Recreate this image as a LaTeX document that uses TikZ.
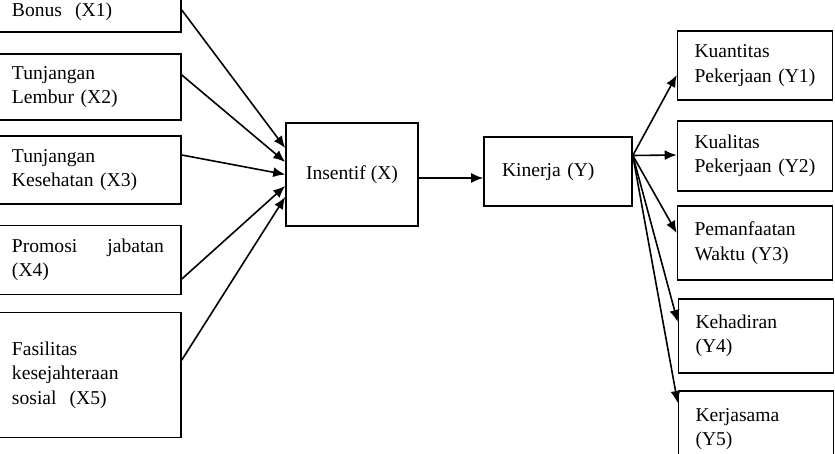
\documentclass[tikz,border=0pt]{standalone}
\usepackage{fontspec}
\setmainfont{Liberation Serif}
\usetikzlibrary{arrows.meta}

\begin{document}
\begin{tikzpicture}[x=1pt, y=-1pt,
    box/.style={draw, line width=1.6pt, rectangle, align=left, inner xsep=17pt, inner ysep=0pt,
        font=\fontsize{19.6}{24.5}\selectfont},
    leftbox/.style={box, text width=152pt},
    rightbox/.style={box, text width=121pt},
    arr/.style={-{Latex[length=12pt,width=10pt]}, line width=1.6pt}]
    % Fix the page size
    \useasboundingbox (0,0) rectangle (835,454);

    % Draw the left boxes
    \node[leftbox, minimum height=40pt] (x1) at (88,12) {Bonus\ \ (X1)};
    \node[leftbox, minimum height=66pt] (x2) at (88,87) {Tunjangan\\Lembur (X2)};
    \node[leftbox, minimum height=68pt] (x3) at (88,170) {Tunjangan\\Kesehatan (X3)};
    \node[leftbox, minimum height=69pt] (x4) at (88,260) {Promosi \hfill jabatan\\(X4)};
    \node[leftbox, minimum height=125pt] (x5) at (88,375) {Fasilitas\\kesejahteraan\\sosial\ \ (X5)};

    % Draw the middle boxes
    \node[box, align=center, minimum width=132pt, minimum height=103pt] (ins) at (352,174.5) {Insentif (X)};
    \node[box, inner xsep=18pt, text width=112pt, minimum height=69pt] (kin) at (558,171.5) {Kinerja (Y)};

    % Draw the right boxes
    \node[rightbox, minimum height=69pt] (y1) at (755,65.5) {Kuantitas\\Pekerjaan (Y1)};
    \node[rightbox, minimum height=70pt] (y2) at (755,156) {Kualitas\\Pekerjaan (Y2)};
    \node[rightbox, minimum height=74pt] (y3) at (755,243) {Pemanfaatan\\Waktu (Y3)};
    \node[rightbox, minimum height=74pt] (y4) at (756,336) {Kehadiran\\(Y4)};
    \node[rightbox, minimum height=76pt] (y5) at (756,429) {Kerjasama\\(Y5)};

    % Arrows into Insentif
    \foreach \s/\a/\b in {x1/2/26.5, x2/12/12.5, x3/15/0, x4/-19/-11.5, x5/15/-22.5}
        \draw[arr] ([yshift=\a pt]\s.east) -- ([yshift=\b pt]ins.west);

    % Insentif to Kinerja
    \draw[arr] ([yshift=-3.5pt]ins.east) -- ([yshift=-6.5pt]kin.west);

    % Arrows out of Kinerja
    \coordinate (fan) at ([yshift=16pt]kin.east);
    \foreach \t/\b in {y1/-9.5, y2/1, y3/10, y4/14, y5/26}
        \draw[arr] (fan) -- ([yshift=\b pt]\t.west);
\end{tikzpicture}
\end{document}
